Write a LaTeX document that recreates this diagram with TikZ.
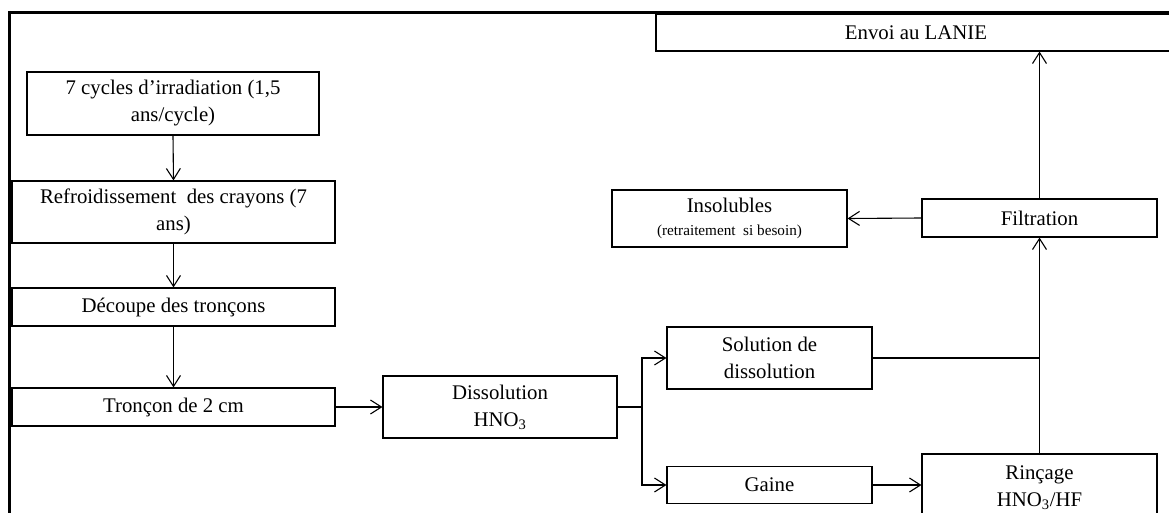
\documentclass[tikz,border=0pt]{standalone}
\usepackage{fontspec}
\setmainfont{Liberation Serif}
\usetikzlibrary{arrows.meta}
\begin{document}
\begin{tikzpicture}[x=1pt,y=-1pt,
  box/.style={draw,line width=1.1pt,inner sep=0pt,align=center,
    font=\fontsize{20.8}{27}\selectfont},
  arr/.style={line width=1.1pt,-{Straight Barb[length=11pt,width=14pt,line width=1.1pt]}},
  link/.style={line width=1.1pt},
  frame/.style={line width=3pt}]
\useasboundingbox (0,0) rectangle (1169,513);
\clip (0,0) rectangle (1169,513);
% outer frame (top and left edges)
\draw[frame] (8,12.5) -- (1175,12.5);
\draw[frame] (9.5,11) -- (9.5,520);
% left column
\node[box,minimum width=292pt,minimum height=63pt] (cyc) at (173,103.5)
  {7 cycles d’irradiation (1,5\\ans/cycle)};
\node[box,minimum width=323pt,minimum height=62pt] (refr) at (173.5,212)
  {Refroidissement\ \ des crayons (7\\ans)};
\node[box,minimum width=323pt,minimum height=38pt] (dec) at (173.5,307)
  {Découpe des tronçons};
\node[box,minimum width=323pt,minimum height=38pt] (tron) at (173.5,407)
  {Tronçon de 2 cm};
% dissolution and its products
\node[box,minimum width=234pt,minimum height=62pt] (diss) at (500,407)
  {Dissolution\\HNO\textsubscript{3}};
\node[box,minimum width=205pt,minimum height=62pt] (sol) at (769.5,358)
  {Solution de\\dissolution};
\node[box,minimum width=205pt,minimum height=37pt] (gaine) at (769.5,485)
  {Gaine};
\node[box,minimum width=235pt,minimum height=68pt] (rinc) at (1039.5,488)
  {Rinçage\\HNO\textsubscript{3}/HF};
% filtration and outputs
\node[box,minimum width=235pt,minimum height=38pt] (filt) at (1039.5,218)
  {Filtration};
\node[box,minimum width=235pt,minimum height=57pt] (ins) at (729.5,218.5)
  {Insolubles\\[-4pt]{\fontsize{15.2}{18}\selectfont (retraitement\ \ si besoin)}};
\node[box,minimum width=520pt,minimum height=37pt] (envoi) at (916,32.5)
  {Envoi au LANIE};
% junction points
\coordinate (j) at (642,407);
\coordinate (k) at (rinc.north |- sol.east);
% connectors
\draw[arr] (cyc.south) -- (refr.north);
\draw[arr] (refr.south) -- (dec.north);
\draw[arr] (dec.south) -- (tron.north);
\draw[arr] (tron.east) -- (diss.west);
\draw[link] (diss.east) -- (j);
\draw[arr] (j) |- (sol.west);
\draw[arr] (j) |- (gaine.west);
\draw[arr] (gaine.east) -- (rinc.west |- gaine.east);
\draw[link] (sol.east) -- (k);
\draw[arr] (rinc.north) -- (filt.south);
\draw[arr] (filt.north) -- (filt.north |- envoi.south);
\draw[arr] (filt.west) -- (ins.east);
\end{tikzpicture}
\end{document}
